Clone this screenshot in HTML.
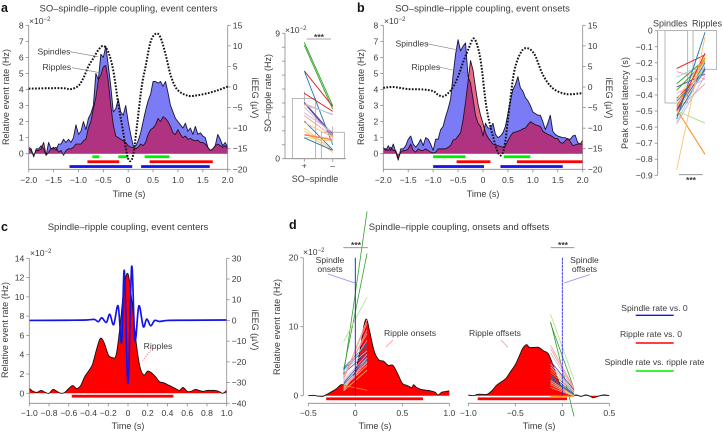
<!DOCTYPE html>
<html lang="en">
<head>
<meta charset="utf-8">
<title>Spindle-ripple coupling figure</title>
<style>
html,body{margin:0;padding:0;background:#fff;width:723px;height:432px;overflow:hidden}
svg{display:block;font-family:"Liberation Sans",sans-serif;fill:#3a3a3a}
text{font-size:8.6px}
.t{font-size:9.5px}
.b{font-size:12.5px;font-weight:bold;fill:#111}
.l{font-size:9px}
</style>
</head>
<body>
<svg id="fig" width="723" height="432" viewBox="0 0 723 432" xmlns="http://www.w3.org/2000/svg">
<rect width="723" height="432" fill="#fff"/>
<g id="pa"></g>
<g id="pa2"></g>
<g id="pb"></g>
<g id="pb2"></g>
<g id="pc"></g>
<g id="pd"></g>

<g>
<text class="b" x="1" y="12">a</text>
<text class="b" x="357" y="12">b</text>
<text class="b" x="1" y="231">c</text>
<text class="b" x="289" y="229">d</text>

<text class="t" x="128.500" y="11.500" text-anchor="middle">SO–spindle–ripple coupling, event centers</text>
<text class="t" x="482.500" y="11.500" text-anchor="middle">SO–spindle–ripple coupling, event onsets</text>
<text class="t" x="128" y="230" text-anchor="middle">Spindle–ripple coupling, event centers</text>
<text class="t" x="459" y="230" text-anchor="middle">Spindle–ripple coupling, onsets and offsets</text>

<text x="29" y="24">×10<tspan dy="-3" font-size="6">−2</tspan></text>
<text x="384" y="24">×10<tspan dy="-3" font-size="6">−2</tspan></text>
<text x="285" y="33">×10<tspan dy="-3" font-size="6">−2</tspan></text>
<text x="30" y="256">×10<tspan dy="-3" font-size="6">−2</tspan></text>
<text x="303" y="255">×10<tspan dy="-3" font-size="6">−2</tspan></text>

<text class="l" transform="translate(9,97) rotate(-90)" text-anchor="middle" textLength="96">Relative event rate (Hz)</text>
<text class="l" transform="translate(252,98) rotate(90)" text-anchor="middle">iEEG (µV)</text>
<text class="l" x="129" y="197" text-anchor="middle">Time (s)</text>
<text class="l" transform="translate(271,93) rotate(-90)" text-anchor="middle" textLength="78">SO–ripple rate (Hz)</text>
<text class="l" x="315" y="182" text-anchor="middle">SO–spindle</text>
<text class="l" transform="translate(364,97) rotate(-90)" text-anchor="middle" textLength="96">Relative event rate (Hz)</text>
<text class="l" transform="translate(606,98) rotate(90)" text-anchor="middle">iEEG (µV)</text>
<text class="l" x="483" y="197" text-anchor="middle">Time (s)</text>
<text class="l" transform="translate(628,103) rotate(-90)" text-anchor="middle" textLength="92">Peak onset latency (s)</text>
<text class="l" x="653" y="26.500">Spindles</text>
<text class="l" x="692" y="26.500">Ripples</text>
<text class="l" transform="translate(8,330) rotate(-90)" text-anchor="middle" textLength="96">Relative event rate (Hz)</text>
<text class="l" transform="translate(252,330) rotate(90)" text-anchor="middle">iEEG (µV)</text>
<text class="l" x="128" y="429" text-anchor="middle">Time (s)</text>
<text class="l" transform="translate(280,327) rotate(-90)" text-anchor="middle" textLength="96">Relative event rate (Hz)</text>
<text class="l" x="375" y="429" text-anchor="middle">Time (s)</text>
<text class="l" x="539" y="429" text-anchor="middle">Time (s)</text>

<g stroke="#777" stroke-width=".6" fill="none">
<line x1="70" y1="51.700" x2="98" y2="56.700"/>
<line x1="72" y1="67.700" x2="100" y2="72.700"/>
<line x1="427" y1="43.700" x2="458" y2="50"/>
<line x1="439" y1="67" x2="470" y2="74"/>
</g>
<line x1="151" y1="350" x2="142.700" y2="360.700" stroke="#f66" stroke-width=".7" stroke-dasharray="1.500 1"/>
<line x1="328" y1="274" x2="355" y2="283" stroke="#88f" stroke-width=".7"/>
<line x1="393" y1="340" x2="386" y2="347" stroke="#f88" stroke-width=".7"/>
<line x1="590" y1="274.500" x2="564" y2="283" stroke="#88f" stroke-width=".7"/>
<line x1="501" y1="340" x2="508" y2="347.500" stroke="#f88" stroke-width=".7"/>

<text x="37.500" y="54.500">Spindles</text>
<text x="42.500" y="70">Ripples</text>
<text x="395.500" y="46.500">Spindles</text>
<text x="411.500" y="70">Ripples</text>
<text x="158" y="349" text-anchor="middle">Ripples</text>
<text x="330" y="263" text-anchor="middle">Spindle</text>
<text x="330" y="272" text-anchor="middle">onsets</text>
<text x="410" y="336" text-anchor="middle">Ripple onsets</text>
<text x="584.500" y="263" text-anchor="middle">Spindle</text>
<text x="584.500" y="272" text-anchor="middle">offsets</text>
<text x="495" y="336" text-anchor="middle">Ripple offsets</text>
</g>

<g>
<line x1="306.700" x2="331" y1="39" y2="39" stroke="#888" stroke-width=".8"/>
<text x="319" y="40" text-anchor="middle" font-weight="bold">***</text>
<line x1="679" x2="702.700" y1="174.700" y2="174.700" stroke="#888" stroke-width=".8"/>
<text x="691" y="183" text-anchor="middle" font-weight="bold">***</text>
<line x1="343.300" x2="367.700" y1="247.700" y2="247.700" stroke="#888" stroke-width=".8"/>
<text x="356" y="248" text-anchor="middle" font-weight="bold">***</text>
<line x1="550.700" x2="574.300" y1="247.700" y2="247.700" stroke="#888" stroke-width=".8"/>
<text x="563" y="248" text-anchor="middle" font-weight="bold">***</text>
</g>

<g>
<text x="654.500" y="311" text-anchor="middle">Spindle rate vs. 0</text>
<line x1="635.700" x2="673.700" y1="315.300" y2="315.300" stroke="#1414e6" stroke-width="1.400"/>
<text x="651" y="337" text-anchor="middle">Ripple rate vs. 0</text>
<line x1="635.700" x2="673.700" y1="343" y2="343" stroke="#f00" stroke-width="1.400"/>
<text x="654.500" y="365" text-anchor="middle">Spindle rate vs. ripple rate</text>
<line x1="635.700" x2="673.700" y1="371" y2="371" stroke="#0e0" stroke-width="1.400"/>
</g>
</svg>

<script>
// ---------- Panel a data ----------
const aSpindles = [
.4,.3,-.2,.3,.3,.5,.3,-.1,.7,.3,
.4,.2,.6,.6,.9,.7,.9,.7,1.0,1.8,
1.2,1.4,2.0,1.5,2.2,2.5,3.0,5.0,4.6,6.2,
6.0,6.7,5.5,4.2,2.6,2.8,3.4,2.6,2.4,3.0,
2.0,1.2,.5,.5,.8,1.3,2.0,2.7,3.3,3.7,
4.5,4.5,4.4,4.5,4.2,4.5,3.8,3.0,2.6,2.2,
2.0,1.8,1.6,1.9,1.4,1.6,1.2,1.7,1.2,1.3,
1.1,1.0,.4,.2,.3,.5,1.2,.9,.5,.7,
.4];
const aRipples = [
.3,.2,-.1,.2,.2,.3,.7,-.1,.1,.3,
.3,.4,.1,.2,-.1,.2,.3,.3,.4,.6,
.6,.6,.8,.9,1.6,2.0,2.8,3.5,4.6,4.9,
5.4,5.5,4.5,3.0,1.8,1.1,1.0,.9,.8,.7,
.5,.4,.4,.3,.4,.6,.5,.7,1.2,1.5,
1.6,1.8,2.2,2.0,2.3,2.2,2.0,1.7,1.3,1.2,
1.5,1.2,1.0,1.1,.9,.95,.85,.8,.85,.7,
.7,.6,.4,.2,.3,.5,.6,.5,.4,.5,
.3];
const aEegTimes = [-2,-1.6,-1.3,-1.15,-1,-.9,-.8,-.7,-.6,-.5,-.4,-.3,-.2,-.1,-.03,.03,.1,.18,.27,.35,.45,.56,.65,.75,.85,.95,1.05,1.15,1.25,1.4,1.6,1.8,2];
const aEegValues = [-.4,-.3,-.3,-.5,.3,2.2,5,7,9,10,8.5,4,-4,-11,-16,-18,-16.5,-9,0,5,11,13,12,8,3,0,-1.3,-1.9,-2.2,-2,-1.5,-.8,.1];
const aXTicks = [-2,-1.5,-1,-.5,0,.5,1,1.5,2];
const aYTicks = [0,1,2,3,4,5,6,7,8];
const aEegTicks = [15,10,5,0,-5,-10,-15,-20];
const aSigGreen = [[-.72,-.58],[-.2,0],[.33,.83]];
const aSigRed = [[-.82,-.18],[.43,1.7]];
const aSigBlue = [[-1.18,.08],[.26,1.64]];

// ---------- Panel a paired data ----------
const a2PlusValues  = [8.35,8.15,6.3,6.3,4.7,4.05,4.0,3.95,3.85,3.7,3.3,3.1,2.7,2.6,2.2,2.0,1.75,1.7,1.55,1.5];
const a2MinusValues = [3.8,3.55,3.75,1.0,3.4,1.75,1.6,3.15,3.2,1.7,1.9,1.6,.65,1.55,.6,.45,1.4,1.35,1.25,.6];
const a2Groups = [2,2,4,0,4,8,8,5,1,9,9,5,0,7,7,7,5,6,7,0];
const a2BarMeans = [4.33,1.9];
const a2YTicks = [0,1,2,3,4,5,6,7,8,9];

// ---------- Panel b data ----------
const bSpindles = [
.4,.2,.5,.2,.6,.1,-.4,.3,.3,.5,
.9,1.1,.6,.4,.6,.9,.5,1.0,.9,.6,
.2,.9,.9,1.5,1.7,2.3,2.8,3.4,4.9,6.2,
7.1,6.4,6.7,6.9,4.8,4.4,3.4,2.4,1.9,1.7,
1.1,1.9,1.6,1.6,1.9,1.2,1.0,1.1,1.3,1.7,
2.5,3.3,4.0,4.3,4.8,4.1,3.9,3.5,3.3,3.0,
2.6,2.5,2.4,2.4,2.0,1.5,1.9,2.4,1.4,1.2,
1.1,1.05,1.0,1.0,.9,.9,1.1,1.15,.7,.6,
.6];
const bRipples = [
.3,.3,.2,.4,.2,.2,-.3,.1,.2,.2,
.3,.6,.2,.1,.3,.2,.2,.3,.2,.1,
.05,.1,.3,.3,.3,.3,.4,.5,.85,.9,
1.1,1.3,2.1,3.2,4.5,5.8,5.2,4.1,3.1,2.4,
1.9,1.3,1.0,.8,.6,.55,.5,.45,.4,.5,
.8,1.1,1.3,1.35,1.4,1.45,1.55,1.6,1.8,2.0,
1.9,1.8,1.75,1.7,1.4,1.3,1.2,1.15,1.05,.95,
.95,.7,.65,.8,.95,.75,.5,.55,.6,.6,
.85];
const bEegTimes = [-2,-1.8,-1.5,-1.2,-1,-.9,-.8,-.7,-.6,-.5,-.4,-.3,-.19,-.1,-.03,.07,.2,.33,.43,.53,.63,.77,.9,1.04,1.2,1.4,1.67,1.98];
const bEegValues = [-.2,0,-.5,-.6,-1,-1.9,-2.3,-1.5,0,2.5,6,9,11.8,9.5,5,-5,-12,-16.5,-14.5,-4.8,4,8.6,9.4,7.8,3,-.3,-1.7,-1.5];
const bXTicks = [-2,-1.5,-1,-.5,0,.5,1,1.5,2];
const bYTicks = [0,1,2,3,4,5,6,7,8];
const bEegTicks = [15,10,5,0,-5,-10,-15,-20];
const bSigGreen = [[-1,-.35],[.42,.95]];
const bSigRed = [[-.53,.15],[.68,2]];
const bSigBlue = [[-1,.02],[.35,1.6]];

// ---------- Panel b paired data ----------
const b2Spindles = [-.235,-.255,-.29,-.33,-.35,-.37,-.39,-.42,-.43,-.44,-.46,-.47,-.48,-.49,-.5,-.5,-.5,-.52,-.53,-.55,-.57,-.58,-.49,-.5,-.865];
const b2Ripples  = [-.15,-.3,-.2,-.18,-.27,-.19,-.3,-.25,-.16,-.24,-.22,-.17,-.25,-.2,-.23,-.14,-.33,-.18,-.24,-.01,-.22,-.28,-.77,-.575,-.04];
const b2Groups = [4,5,1,2,8,2,9,4,7,0,3,6,5,0,8,4,5,7,0,0,1,9,6,3,7];
const b2BarMeans = [-.45,-.24];
const b2YTicks = [0,-.1,-.2,-.3,-.4,-.5,-.6,-.7,-.8,-.9];

// ---------- Panel c data ----------
const cRipples = [.5,.2,.1,.3,.1,0,.4,.2,0,.1,.5,.8,.5,.8,1.7,2.3,3,4.5,5.7,5.2,4,3.7,4,7,11,12.4,9.5,5.5,2.8,1.9,2.3,2.1,1.7,1.2,1.1,.9,.7,.5,.3,.6,.2,.2,.4,.3,.2,.3,.3,.3,.2,0,.3];
const cEegTimes = [-1,-.6,-.42,-.34,-.3,-.265,-.22,-.185,-.145,-.1,-.064,-.037,0,.037,.07,.11,.155,.19,.23,.27,.32,.4,.6,1];
const cEegValues = [0,.1,.2,.5,-.6,1.3,-1,3,-2,7,-10.6,24,-30.5,26,-9.5,7,-3,.7,-2.6,0,-.5,0,.1,.2];
const cXTicks = [-1,-.8,-.6,-.4,-.2,0,.2,.4,.6,.8,1];
const cYTicks = [0,2,4,6,8,10,12,14];
const cEegTicks = [30,20,10,0,-10,-20,-30,-40];
const cSigRed = [[-.57,.46]];

// ---------- Panel d data ----------
const dOnsetTimes = [-.5,-.45,-.4,-.35,-.3,-.25,-.2,-.15,-.1,-.05,0,.05,.09,.12,.15,.2,.25,.3,.35,.4,.45,.5,.55,.6,.62,.65,.7,.75,.8,.85,.88,.92,.96,1];
const dOnsetRates = [0,.05,-.05,-.1,.2,.6,1,1.6,1.5,2.2,3.5,6.5,10,11.1,9.5,6.5,5.2,5,4.4,4.4,3.2,1.8,1.5,1.2,1.6,1.2,.9,.8,.7,.5,.1,.5,.6,.7];
const dOffsetTimes = [-1,-.95,-.9,-.85,-.8,-.75,-.7,-.65,-.6,-.55,-.5,-.45,-.42,-.38,-.35,-.3,-.25,-.2,-.15,-.1,-.05,0,.05,.1,.15,.2,.25,.3,.33,.4,.45,.5];
const dOffsetRates = [.1,0,.2,.2,.2,.7,1.5,2,2.5,3.5,4.5,6,6.9,7.4,7,7,7,6.5,6.1,4.5,2.5,1,.3,0,.1,-.1,.1,-.1,-.3,0,.1,0];
const dOnsetPairStart = [3.7,3,7.8,4,3.8,3.6,3.2,3,2.8,2.6,2.4,2.2,2,1.8,1.6,1.4,1.2,1,.8,1.5,.7,2.5];
const dOnsetPairEnd = [20.6,26.7,14.3,7.5,7,6.5,6.2,8,9,10.5,11,6,5.5,5.8,5.2,4.8,4.4,5,5.5,.8,3.7,9.5];
const dOnsetGroups = [2,2,3,0,0,1,8,9,5,5,5,9,1,8,0,5,7,9,5,6,7,5];
const dOffsetPairStart = [10.7,10.5,11.8,7.3,6.8,6.2,5,4.6,4.2,3.8,3.4,3,2.6,2.4,2.2,2,1.6,1.2,-.1,1.9];
const dOffsetPairEnd = [-3,1,2.3,1.1,1,.8,.8,.6,.6,.5,.5,.3,.2,.1,0,0,-.1,-.1,-.1,0];
const dOffsetGroups = [2,2,3,5,5,9,8,9,7,1,6,0,0,8,7,0,7,5,6,7];
const dOnsetXTicks = [-.5,0,.5,1];
const dOffsetXTicks = [-1,-.5,0,.5];
const dYTicks = [0,10,20];
const dSigOnset = [[-.31,.72]];
const dSigOffset = [[-.9,.05]];

// ---------- Styles ----------
const pairPalette = ['#1f78b4','#a6cee3','#33a02c','#b2df8a','#e31a1c','#fb9a99','#ff7f00','#fdbf6f','#6a3d9a','#cab2d6'];

// ---------- Helpers ----------
const NS = 'http://www.w3.org/2000/svg';
function scale(d0, d1, r0, r1) { return v => r0 + (v - d0) * (r1 - r0) / (d1 - d0); }
function fmt(v, dec) {
  const s = v === 0 ? '0' : Math.abs(v).toFixed(dec);
  return (v < 0 ? '\u2212' : '') + s;
}
function addLine(parent, name, x1, y1, x2, y2, color, width, dash) {
  const el = document.createElementNS(NS, 'line');
  
  
  el.setAttribute('x1', x1.toFixed(2));
  el.setAttribute('y1', y1.toFixed(2));
  el.setAttribute('x2', x2.toFixed(2));
  el.setAttribute('y2', y2.toFixed(2));
  el.setAttribute('stroke', color);
  el.setAttribute('stroke-width', width);
  if (dash) el.setAttribute('stroke-dasharray', dash);
  parent.appendChild(el);
  return el;
}
function addText(parent, name, x, y, str, anchor) {
  const el = document.createElementNS(NS, 'text');
  
  
  el.setAttribute('x', x.toFixed(2));
  el.setAttribute('y', y.toFixed(2));
  el.setAttribute('text-anchor', anchor);
  el.textContent = str;
  parent.appendChild(el);
  return el;
}
function addPath(parent, name, d, fill, stroke, width, dash) {
  const el = document.createElementNS(NS, 'path');
  
  
  el.setAttribute('d', d);
  el.setAttribute('fill', fill);
  el.setAttribute('stroke', stroke);
  el.setAttribute('stroke-width', width);
  el.setAttribute('stroke-linejoin', 'round');
  if (dash) el.setAttribute('stroke-dasharray', dash);
  parent.appendChild(el);
  return el;
}
function addRect(parent, name, x, y, w, h, fill, stroke) {
  const el = document.createElementNS(NS, 'rect');
  
  
  el.setAttribute('x', x.toFixed(2));
  el.setAttribute('y', y.toFixed(2));
  el.setAttribute('width', Math.abs(w).toFixed(2));
  el.setAttribute('height', Math.abs(h).toFixed(2));
  el.setAttribute('fill', fill);
  el.setAttribute('stroke', stroke);
  el.setAttribute('stroke-width', '0.7');
  parent.appendChild(el);
  return el;
}
function polyD(xs, ys) { return xs.map((x, i) => (i ? 'L' : 'M') + x.toFixed(2) + ' ' + ys[i].toFixed(2)).join(''); }
function smoothD(xs, ys) {
  let d = 'M' + xs[0].toFixed(2) + ' ' + ys[0].toFixed(2);
  for (let i = 0; i < xs.length - 1; i++) {
    const p = Math.max(i - 1, 0), n = Math.min(i + 2, xs.length - 1);
    const c1x = xs[i] + (xs[i + 1] - xs[p]) / 6, c1y = ys[i] + (ys[i + 1] - ys[p]) / 6;
    const c2x = xs[i + 1] - (xs[n] - xs[i]) / 6, c2y = ys[i + 1] - (ys[n] - ys[i]) / 6;
    d += 'C' + c1x.toFixed(2) + ' ' + c1y.toFixed(2) + ' ' + c2x.toFixed(2) + ' ' + c2y.toFixed(2) + ' ' + xs[i + 1].toFixed(2) + ' ' + ys[i + 1].toFixed(2);
  }
  return d;
}
function uniformTimes(values, start, step) { return values.map((_, i) => start + i * step); }
function area(parent, name, times, values, x, y, fill, strokeColor, smooth) {
  const xs = times.map(x), ys = values.map(y);
  const line = smooth ? smoothD(xs, ys) : polyD(xs, ys);
  addPath(parent, name + '-area', line + 'L' + xs[xs.length - 1].toFixed(2) + ' ' + y(0).toFixed(2) + 'L' + xs[0].toFixed(2) + ' ' + y(0).toFixed(2) + 'Z', fill, 'none', 0);
  return () => addPath(parent, name + '-line', line, 'none', strokeColor, 0.9);
}
function sigBars(parent, name, ranges, yPix, x, color, h) {
  ranges.forEach(r => addRect(parent, name, x(r[0]), yPix - h / 2, x(r[1]) - x(r[0]), h, color, 'none'));
}
const AX = '#8a8a8a';
function yAxis(parent, name, xPix, ticks, y, labelled, dec, side) {
  addLine(parent, name + '-line', xPix, y(ticks[0]), xPix, y(ticks[ticks.length - 1]), AX, 0.8);
  ticks.forEach(t => {
    addLine(parent, name + '-tick', xPix, y(t), xPix + side * 3, y(t), AX, 0.8);
    if (labelled(t)) addText(parent, name + '-tick-label', xPix + side * 5, y(t) + 3, fmt(t, dec), side < 0 ? 'end' : 'start');
  });
}
function xAxis(parent, name, yPix, ticks, x, dec, labelGap) {
  addLine(parent, name + '-line', x(ticks[0]), yPix, x(ticks[ticks.length - 1]), yPix, AX, 0.8);
  ticks.forEach(t => {
    addLine(parent, name + '-tick', x(t), yPix, x(t), yPix + 3, AX, 0.8);
    addText(parent, name + '-tick-label', x(t), yPix + labelGap, fmt(t, dec), 'middle');
  });
}
function pairs(parent, name, x0, x1, y, from, to, groups, width) {
  from.forEach((v, i) => addLine(parent, name, x0, y(v), x1, y(to[i]), pairPalette[groups[i]], width));
}

// ---------- Panels a, b ----------
function eventPanel(g, prefix, x0Pix, x1Pix, spindles, ripples, eegT, eegV, xT, yT, eT, sigG, sigR, sigB) {
  const x = scale(-2, 2, x0Pix, x1Pix);
  const y = scale(0, 8, 153.7, 25.3);
  const e = scale(15, -20, 25.3, 169.3);
  const bottom = 169.3;
  const blueOutline = area(g, prefix + '-spindles', uniformTimes(spindles, -2, .05), spindles, x, y, '#7b7bf6', '#16163a');
  const redOutline = area(g, prefix + '-ripples', uniformTimes(ripples, -2, .05), ripples, x, y, 'rgba(215,0,45,.58)', '#2a1020');
  blueOutline();
  redOutline();
  sigBars(g, prefix + '-sig-green', sigG, y(-.19), x, '#0e0', 2.8);
  sigBars(g, prefix + '-sig-red', sigR, y(-.5), x, '#f00', 2.8);
  sigBars(g, prefix + '-sig-blue', sigB, y(-.8), x, '#1414e6', 2.8);
  yAxis(g, prefix + '-y-axis', x0Pix, yT, y, () => true, 0, -1);
  yAxis(g, prefix + '-y2-axis', x1Pix, eT, e, () => true, 0, 1);
  addLine(g, prefix + '-y-axis-extension', x0Pix, y(0), x0Pix, bottom, AX, 0.8);
  xAxis(g, prefix + '-x-axis', bottom, xT, x, 1, 13.5);
  addPath(g, prefix + '-ieeg-trace', smoothD(eegT.map(x), eegV.map(e)), 'none', '#111', 2, '1.7 1.5');
}
eventPanel(document.getElementById('pa'), 'a', 28.7, 227.7, aSpindles, aRipples, aEegTimes, aEegValues, aXTicks, aYTicks, aEegTicks, aSigGreen, aSigRed, aSigBlue);
eventPanel(document.getElementById('pb'), 'b', 383.3, 582.7, bSpindles, bRipples, bEegTimes, bEegValues, bXTicks, bYTicks, bEegTicks, bSigGreen, bSigRed, bSigBlue);

// ---------- Panel a rates ----------
(function () {
  const g = document.getElementById('pa2');
  const y = scale(0, 9, 158.7, 33.3);
  const bars = [[292.3, 315.7], [321.3, 344.3]];
  bars.forEach((b, i) => addRect(g, 'mean-bar', b[0], y(a2BarMeans[i]), b[1] - b[0], y(0) - y(a2BarMeans[i]), '#fff', '#999'));
  addLine(g, 'error-bar', 304.3, y(a2BarMeans[0] - .5), 304.3, y(a2BarMeans[0] + .5), '#999', .7);
  addLine(g, 'error-bar', 332.7, y(a2BarMeans[1] - .4), 332.7, y(a2BarMeans[1] + .4), '#999', .7);
  pairs(g, 'subject-line', 304.3, 332.7, y, a2PlusValues, a2MinusValues, a2Groups, 0.9);
  yAxis(g, 'a2-y-axis', 285, a2YTicks, y, t => t === 0 || t === 9, 0, -1);
  addLine(g, 'a2-x-axis', 285, y(0), 346, y(0), AX, 0.8);
  addLine(g, 'a2-tick', 304.3, y(0), 304.3, y(0) + 3, AX, .8);
  addLine(g, 'a2-tick', 332.7, y(0), 332.7, y(0) + 3, AX, .8);
  addText(g, 'a2-tick-label', 304.3, 168.5, '+', 'middle');
  addText(g, 'a2-tick-label', 332.7, 168.5, '\u2013', 'middle');
})();

// ---------- Panel b latency ----------
(function () {
  const g = document.getElementById('pb2');
  const y = scale(0, -.9, 30.7, 175.3);
  const bars = [[665, 687.7], [693, 716.7]];
  bars.forEach((b, i) => addRect(g, 'latency-bar', b[0], y(0), b[1] - b[0], y(b2BarMeans[i]) - y(0), '#fff', '#999'));
  addLine(g, 'b2-top-line', 657.7, y(0), 716.7, y(0), '#999', .7);
  pairs(g, 'subject-line', 676.7, 705, y, b2Spindles, b2Ripples, b2Groups, 0.9);
  yAxis(g, 'b2-y-axis', 657.7, b2YTicks, y, () => true, 1, -1);
})();

// ---------- Panel c ----------
(function () {
  const g = document.getElementById('pc');
  const x = scale(-1, 1, 29.3, 226.7);
  const y = scale(0, 14, 393.3, 258.3);
  const e = scale(30, -40, 258.3, 403.3);
  const outline = area(g, 'c-ripples', uniformTimes(cRipples, -1, .04), cRipples, x, y, '#f00', '#111', true);
  outline();
  sigBars(g, 'c-sig-red', cSigRed, y(-.3), x, '#f00', 2.8);
  addPath(g, 'c-ieeg-trace', smoothD(cEegTimes.map(x), cEegValues.map(e)), 'none', '#1414e6', 1.7);
  yAxis(g, 'c-y-axis', 29.3, cYTicks, y, () => true, 0, -1);
  addLine(g, 'c-y-axis-extension', 29.3, y(0), 29.3, 403.3, AX, .8);
  yAxis(g, 'c-y2-axis', 226.7, cEegTicks, e, () => true, 0, 1);
  xAxis(g, 'c-x-axis', 403.3, cXTicks, x, 1, 12.5);
})();

// ---------- Panel d ----------
(function () {
  const g = document.getElementById('pd');
  const y = scale(0, 20, 395.7, 257.7);
  const xOn = scale(0, 1, 355.3, 449.3);
  const xOff = scale(0, .5, 562.3, 609.3);
  const o1 = area(g, 'd-onset-ripples', dOnsetTimes, dOnsetRates, xOn, y, '#f00', '#111', true);
  o1();
  const o2 = area(g, 'd-offset-ripples', dOffsetTimes, dOffsetRates, xOff, y, '#f00', '#111', true);
  o2();
  sigBars(g, 'd-onset-sig-red', dSigOnset, y(-.45), xOn, '#f00', 2.8);
  sigBars(g, 'd-offset-sig-red', dSigOffset, y(-.45), xOff, '#f00', 2.8);
  pairs(g, 'onset-subject-line', xOn(-.125), xOn(.125), y, dOnsetPairStart, dOnsetPairEnd, dOnsetGroups, 0.8);
  pairs(g, 'offset-subject-line', xOff(-.125), xOff(.125), y, dOffsetPairStart, dOffsetPairEnd, dOffsetGroups, 0.8);
  addLine(g, 'spindle-onset-marker', xOn(0), y(20), xOn(0), y(0), '#1414e6', .9);
  addLine(g, 'spindle-offset-marker', xOff(0), y(20), xOff(0), y(0), '#1414e6', .8, '3 .6');
  yAxis(g, 'd-y-axis', 303.3, dYTicks, y, () => true, 0, -1);
  xAxis(g, 'd-onset-x-axis', 403.3, dOnsetXTicks, xOn, 1, 12.5);
  xAxis(g, 'd-offset-x-axis', 403.3, dOffsetXTicks, xOff, 1, 12.5);
})();
</script>
</body>
</html>
